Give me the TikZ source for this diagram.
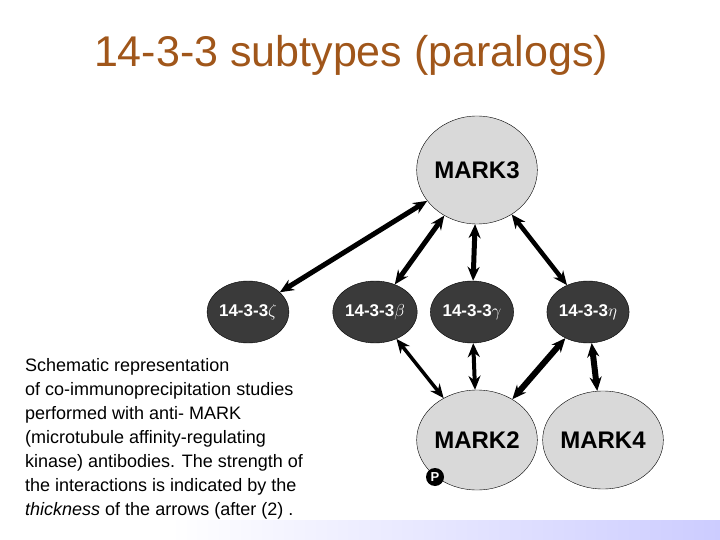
\documentclass[tikz,border=0pt]{standalone}
\usepackage{fontspec}
\setmainfont{Liberation Sans}
\usetikzlibrary{arrows.meta,shapes.geometric}
\definecolor{titlec}{HTML}{A0561A}
\definecolor{lgray}{HTML}{D9D9D9}
\definecolor{dgray}{HTML}{3A3A3A}
\begin{document}
\begin{tikzpicture}[x=1pt,y=-1pt,
  big/.style={ellipse,draw=black,fill=lgray,minimum width=104pt,minimum height=108pt,inner sep=0pt,font=\fontsize{24}{26}\selectfont\bfseries},
  small/.style={ellipse,draw=black,fill=dgray,text=white,minimum width=74pt,minimum height=62pt,inner sep=0pt,font=\fontsize{17}{19}\selectfont\bfseries},
  arr/.style={{Stealth[length=14pt,width=12pt]}-{Stealth[length=14pt,width=12pt]},line width=#1},
  arr/.default=3pt]
\useasboundingbox (0,0) rectangle (720,540);
\shade[left color=white,right color=blue!20] (170,520) rectangle (720,540);
\node[text=titlec,font=\fontsize{43}{45}\selectfont] (title) at (351,55) {14-3-3 subtypes (paralogs)};
\node[big] (m3) at (477,170) {MARK3};
\node[small] (z) at (248,312) {14-3-3$\zeta$};
\node[small] (b) at (375,312) {14-3-3$\beta$};
\node[small] (g) at (472,312) {14-3-3$\gamma$};
\node[small] (h) at (588,312) {14-3-3$\eta$};
\node[big,minimum height=100pt] (m2) at (477,440) {MARK2};
\node[big,minimum height=98pt] (m4) at (603,440) {MARK4};
\node[circle,fill=black,text=white,inner sep=1pt,minimum size=18pt,font=\bfseries\fontsize{13}{13}\selectfont] (p) at (435,477) {P};
\draw[arr=5pt] (m3) -- (z);
\draw[arr=5pt] (m3) -- (b);
\draw[arr=5pt] (m3) -- (g);
\draw[arr=4.5pt] (m3) -- (h);
\draw[arr=3.5pt] (b) -- (m2);
\draw[arr=4pt] (g) -- (m2);
\draw[arr=6pt] (h) -- (m2);
\draw[arr=6pt] (h) -- (m4);
\node[anchor=north west,align=left,font=\fontsize{18}{24}\selectfont,inner sep=0pt] (cap) at (25,358) {Schematic representation\\of co-immunoprecipitation studies\\performed with anti- MARK\\(microtubule affinity-regulating\\kinase) antibodies. The strength of\\the interactions is indicated by the\\\textit{thickness} of the arrows (after (2) .};
\end{tikzpicture}
\end{document}
